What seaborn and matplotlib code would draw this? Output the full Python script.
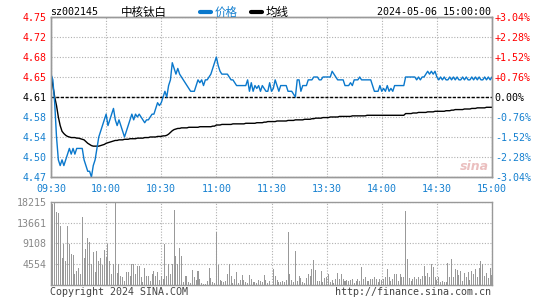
import numpy as np
import pandas as pd
import matplotlib
matplotlib.use("Agg")
import matplotlib.pyplot as plt
from matplotlib.lines import Line2D
import seaborn as sns

# ---------------- data ----------------
time_labels = ["09:30", "10:00", "10:30", "11:00", "11:30", "13:30", "14:00", "14:30", "15:00"]
prev_close = 4.61
price_ticks = [4.47, 4.505, 4.54, 4.575, 4.61, 4.645, 4.68, 4.715, 4.75]
price_tick_labels = ["4.47", "4.50", "4.54", "4.58", "4.61", "4.65", "4.68", "4.72", "4.75"]
pct_tick_labels = ["-3.04%", "-2.28%", "-1.52%", "-0.76%", "0.00%", "+0.76%", "+1.52%", "+2.28%", "+3.04%"]
vol_ticks = [4554, 9108, 13661, 18215]
vol_tick_labels = ["4554", "9108", "13661", "18215"]

price = [
    4.65, 4.64, 4.60, 4.54, 4.50, 4.49, 4.50, 4.49, 4.50, 4.51,
    4.52, 4.51, 4.52, 4.51, 4.52, 4.52, 4.52, 4.52, 4.50, 4.49,
    4.48, 4.48, 4.47, 4.49, 4.50, 4.52, 4.54, 4.55, 4.56, 4.57,
    4.58, 4.56, 4.57, 4.58, 4.59, 4.57, 4.56, 4.57, 4.56, 4.55,
    4.54, 4.55, 4.56, 4.57, 4.58, 4.57, 4.58, 4.575, 4.58, 4.575,
    4.57, 4.565, 4.57, 4.57, 4.575, 4.58, 4.58, 4.59, 4.60, 4.595,
    4.60, 4.61, 4.62, 4.61, 4.63, 4.64, 4.67, 4.66, 4.65, 4.66,
    4.65, 4.645, 4.64, 4.635, 4.63, 4.625, 4.62, 4.62, 4.62, 4.63,
    4.64, 4.635, 4.64, 4.63, 4.64, 4.64, 4.645, 4.65, 4.66, 4.67,
    4.68, 4.665, 4.655, 4.65, 4.65, 4.65, 4.65, 4.645, 4.64, 4.64,
    4.635, 4.63, 4.63, 4.63, 4.63, 4.63, 4.63, 4.64, 4.62, 4.635,
    4.62, 4.63, 4.625, 4.63, 4.62, 4.63, 4.625, 4.62, 4.62, 4.635,
    4.62, 4.625, 4.64, 4.63, 4.62, 4.63, 4.63, 4.63, 4.63, 4.62,
    4.62, 4.62, 4.615, 4.61, 4.64, 4.64, 4.62, 4.63, 4.63, 4.63,
    4.64, 4.64, 4.64, 4.645, 4.645, 4.645, 4.64, 4.64, 4.645, 4.645,
    4.645, 4.645, 4.645, 4.655, 4.65, 4.645, 4.64, 4.64, 4.64, 4.64,
    4.63, 4.63, 4.63, 4.635, 4.63, 4.64, 4.64, 4.64, 4.645, 4.64,
    4.64, 4.64, 4.64, 4.64, 4.64, 4.63, 4.62, 4.62, 4.62, 4.63,
    4.62, 4.625, 4.62, 4.63, 4.62, 4.625, 4.62, 4.63, 4.63, 4.63,
    4.63, 4.63, 4.63, 4.645, 4.645, 4.645, 4.645, 4.645, 4.645, 4.64,
    4.645, 4.64, 4.645, 4.645, 4.65, 4.655, 4.65, 4.655, 4.65, 4.655,
    4.645, 4.64, 4.645, 4.64, 4.645, 4.64, 4.64, 4.645, 4.64, 4.645,
    4.64, 4.645, 4.64, 4.64, 4.645, 4.64, 4.645, 4.64, 4.64, 4.645,
    4.64, 4.645, 4.64, 4.645, 4.64, 4.64, 4.645, 4.64, 4.645, 4.64,
    4.645,
]

avg_price = [
    4.65, 4.63, 4.61, 4.595, 4.575, 4.56, 4.55, 4.546, 4.543, 4.541,
    4.540, 4.539, 4.539, 4.539, 4.538, 4.538, 4.537, 4.536, 4.535, 4.532,
    4.529, 4.527, 4.525, 4.524, 4.524, 4.524, 4.524, 4.525, 4.526, 4.527,
    4.529, 4.530, 4.531, 4.532, 4.533, 4.534, 4.534, 4.535, 4.535, 4.535,
    4.536, 4.536, 4.536, 4.537, 4.537, 4.537, 4.537, 4.538, 4.538, 4.538,
    4.538, 4.539, 4.539, 4.539, 4.540, 4.540, 4.540, 4.540, 4.541, 4.541,
    4.541, 4.542, 4.542, 4.543, 4.545, 4.548, 4.551, 4.553, 4.554, 4.555,
    4.555, 4.556, 4.556, 4.556, 4.556, 4.557, 4.557, 4.557, 4.557, 4.557,
    4.557, 4.558, 4.558, 4.558, 4.558, 4.558, 4.558, 4.558, 4.559, 4.559,
    4.561, 4.561, 4.561, 4.562, 4.562, 4.562, 4.562, 4.562, 4.562, 4.563,
    4.563, 4.563, 4.563, 4.563, 4.563, 4.563, 4.564, 4.564, 4.564, 4.564,
    4.564, 4.564, 4.565, 4.565, 4.565, 4.565, 4.566, 4.566, 4.567, 4.567,
    4.567, 4.567, 4.567, 4.568, 4.568, 4.568, 4.568, 4.568, 4.568, 4.569,
    4.569, 4.569, 4.569, 4.570, 4.570, 4.570, 4.570, 4.570, 4.571, 4.571,
    4.571, 4.571, 4.572, 4.572, 4.573, 4.573, 4.573, 4.573, 4.574, 4.574,
    4.574, 4.574, 4.575, 4.575, 4.575, 4.575, 4.575, 4.576, 4.576, 4.576,
    4.576, 4.576, 4.576, 4.576, 4.577, 4.577, 4.577, 4.577, 4.577, 4.577,
    4.577, 4.577, 4.578, 4.578, 4.578, 4.578, 4.578, 4.578, 4.578, 4.578,
    4.578, 4.578, 4.578, 4.578, 4.578, 4.578, 4.578, 4.578, 4.578, 4.578,
    4.578, 4.578, 4.578, 4.581, 4.581, 4.581, 4.581, 4.582, 4.582, 4.582,
    4.583, 4.583, 4.583, 4.583, 4.583, 4.584, 4.584, 4.584, 4.584, 4.585,
    4.585, 4.585, 4.585, 4.585, 4.585, 4.586, 4.586, 4.586, 4.587, 4.587,
    4.588, 4.588, 4.588, 4.588, 4.588, 4.589, 4.589, 4.589, 4.589, 4.590,
    4.590, 4.590, 4.591, 4.591, 4.591, 4.591, 4.591, 4.592, 4.592, 4.592,
    4.592,
]

volume = [
    # 09:30 - 10:37
    3500, 17640, 18100, 16030, 15670, 12970, 5830, 8890, 5250, 12900,
    8890, 6700, 6560, 2480, 3060, 3640, 2330, 14860, 5980, 7870,
    10350, 9330, 4520, 7290, 2910, 7430, 5250, 5830, 4370, 7580,
    6190, 8890, 5250, 2330, 4520, 18100, 2550, 4520, 2040, 1820,
    870, 2770, 2770, 2040, 4520, 4520, 2330, 4080, 4230, 1750,
    580, 3790, 1890, 2040, 870, 2480, 3060, 2040, 2770, 1020,
    2040, 1310, 8890, 2040, 4520, 2330, 4520, 16400,
    # 10:38 - 10:47
    6340, 4520, 8160, 6340, 580, 2040, 2040, 580, 360, 3280,
    # 10:48 - 10:59
    1820, 1090, 3060, 1310, 360, 150, 150, 870, 3640, 1460, 730, 360,
    # 11:00
    11660,
    # 11:01 - 13:08
    4370, 1090, 870, 580, 870, 2330, 4520, 2040, 360, 1310,
    2770, 360, 1090, 2190, 1090, 580, 360, 2190, 1310, 580,
    580, 360, 1090, 870, 580, 2190, 1090, 360, 870, 100,
    3500, 2040, 1090, 730, 580, 870, 730, 1200,
    # 13:09 - 13:13
    11660, 2330, 1090, 580, 7430,
    # 13:14 - 13:36
    870, 2040, 1460, 730, 360, 1600, 2330, 2040, 3500, 5470,
    3280, 870, 870, 3060, 580, 1600, 1820, 2330, 580, 1090,
    360, 1310, 2550,
    # 13:37 - 14:12
    1240, 2400, 1240, 950, 1090, 950, 1000, 1240, 510, 950,
    1240, 950, 4010, 1240, 1820, 800, 950, 1240, 1240, 1680,
    1240, 730, 1240, 1200, 1240, 1820, 3430, 1680, 950, 1240,
    2400, 2400, 900, 2400, 1680, 1820,
    # 14:13
    16250,
    # 14:14 - 15:00
    5610, 1460, 950, 1240, 1680, 1240, 1820, 1240, 1970, 4150,
    1970, 2700, 1680, 4590, 4010, 1820, 1200, 1680, 730, 950,
    730, 730, 4880, 1820, 5610, 1820, 3430, 3280, 2190, 3130,
    900, 2550, 1820, 2910, 1090, 3130, 2400, 3430, 1680, 3640,
    5320, 4590, 1970, 2600, 1500, 3800, 2200,
]

minute_idx = np.arange(len(price))
df = pd.DataFrame({"m": minute_idx, "price": price, "avg": avg_price, "vol": volume})

# ---------------- style ----------------
sns.set_style("white")
plt.rcParams["font.family"] = ["DejaVu Sans Mono", "Noto Sans CJK SC"]

W, H = 545, 300
BLUE = "#0a78cc"
TBLUE = "#1580d0"
RED = "#ff0000"
GRID = "#b0b0b0"
FRAME = "#999999"
FS = 7.2

fig = plt.figure(figsize=(5.45, 3.0), dpi=100)
fig.patch.set_facecolor("white")


def fx(x):
    return x / W


def fy(y):
    return 1 - y / H


axp = fig.add_axes([fx(51), fy(177), (492 - 51) / W, (177 - 17) / H])
axv = fig.add_axes([fx(51), fy(285), (492 - 51) / W, (285 - 201.7) / H])

# ---------------- price panel ----------------
xt = [0, 30, 60, 90, 120, 150, 180, 210, 240]
axp.set_axisbelow(True)
axp.set_xlim(0, 240)
axp.set_ylim(4.47, 4.75)
axp.set_xticks(xt)
axp.set_xticklabels(time_labels, color=TBLUE, fontsize=FS)
axp.set_yticks(price_ticks)
axp.set_yticklabels(price_tick_labels, fontsize=FS)
axp.grid(True, color=GRID, linestyle=(0, (1, 1.5)), linewidth=0.8)
axp.axhline(prev_close, color="black", linestyle=(0, (2.2, 1.2)), linewidth=1.0, zorder=1.5)

sns.lineplot(data=df, x="m", y="avg", ax=axp, color="black", linewidth=1.0, estimator=None, zorder=3)
sns.lineplot(data=df, x="m", y="price", ax=axp, color=BLUE, linewidth=1.0, estimator=None, zorder=4)
axp.set_xlabel("")
axp.set_ylabel("")
axp.set_xlim(0, 240)
axp.set_ylim(4.47, 4.75)

for lbl, v in zip(axp.get_yticklabels(), price_ticks):
    if v > prev_close + 1e-9:
        lbl.set_color(RED)
    elif v < prev_close - 1e-9:
        lbl.set_color(TBLUE)
    else:
        lbl.set_color("black")
axp.tick_params(axis="both", length=0)
axp.tick_params(axis="y", pad=3)
axp.tick_params(axis="x", pad=5)

axr = axp.twinx()
axr.set_ylim(4.47, 4.75)
axr.set_yticks(price_ticks)
axr.set_yticklabels(pct_tick_labels, fontsize=FS)
for lbl, v in zip(axr.get_yticklabels(), price_ticks):
    if v > prev_close + 1e-9:
        lbl.set_color(RED)
    elif v < prev_close - 1e-9:
        lbl.set_color(TBLUE)
    else:
        lbl.set_color("black")
axr.tick_params(axis="y", length=0, pad=2)
axr.grid(False)

for a in (axp, axr):
    for s in a.spines.values():
        s.set_color(FRAME)
        s.set_linewidth(1.0)

# ---------------- volume panel ----------------
axv.set_axisbelow(True)
sns.barplot(data=df, x="m", y="vol", ax=axv, color="#999999", width=0.55,
            saturation=1, errorbar=None, native_scale=True, linewidth=0)
axv.set_xlabel("")
axv.set_ylabel("")
axv.set_xlim(0, 240)
axv.set_ylim(0, 18215)
axv.set_xticks(xt)
axv.set_xticklabels([])
axv.set_yticks(vol_ticks)
axv.set_yticklabels(vol_tick_labels, fontsize=FS, color="#888888")
axv.grid(True, color=GRID, linestyle=(0, (1, 1.5)), linewidth=0.8)
axv.tick_params(axis="both", length=0)
axv.tick_params(axis="y", pad=3)
for s in axv.spines.values():
    s.set_color(FRAME)
    s.set_linewidth(1.0)

# ---------------- header / footer text ----------------
fig.text(fx(50), fy(12), "sz002145", fontsize=FS, va="center", ha="left", color="black")
fig.text(fx(121), fy(12), "中核钛白", fontsize=8.3, va="center", ha="left", color="black",
         family=["Noto Sans CJK SC", "DejaVu Sans"])
fig.add_artist(Line2D([fx(200), fx(211)], [fy(12), fy(12)], color=BLUE, linewidth=3))
fig.text(fx(215), fy(12), "价格", fontsize=8.3, va="center", ha="left", color=TBLUE,
         family=["Noto Sans CJK SC", "DejaVu Sans"])
fig.add_artist(Line2D([fx(251), fx(262)], [fy(12), fy(12)], color="black", linewidth=3))
fig.text(fx(266), fy(12), "均线", fontsize=8.3, va="center", ha="left", color="black",
         family=["Noto Sans CJK SC", "DejaVu Sans"])
fig.text(fx(491), fy(12), "2024-05-06 15:00:00", fontsize=FS, va="center", ha="right", color="black")

fig.text(fx(50), fy(292), "Copyright 2024 SINA.COM", fontsize=FS, va="center", ha="left", color="#444444")
fig.text(fx(491), fy(292), "http://finance.sina.com.cn", fontsize=FS, va="center", ha="right", color="#444444")

# watermark
fig.text(fx(474), fy(166), "sina", fontsize=9, style="italic", weight="bold", va="center", ha="center",
         color="#e6b0b0", family=["DejaVu Sans"], alpha=0.8)

fig.savefig("out.png", dpi=100, facecolor="white")
